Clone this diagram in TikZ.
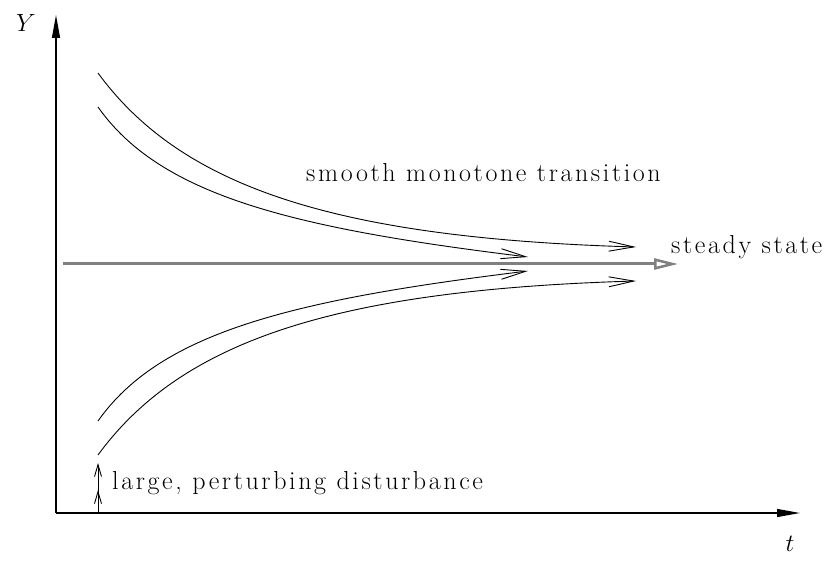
\documentclass[tikz,border=0pt]{standalone}
\usepackage{fontspec}
\setmainfont{Latin Modern Roman}
\newfontfamily\spacedfont[LetterSpace=10]{Latin Modern Roman}
\usetikzlibrary{arrows.meta}
\begin{document}
\begin{tikzpicture}[x=1pt,y=-1pt,
  lbl/.style={font={\spacedfont\fontsize{26}{30}\selectfont}, inner sep=0pt, anchor=base west},
  axlbl/.style={font={\fontsize{26}{30}\selectfont}, inner sep=0pt},
  axis/.style={line width=1.3pt, -{Triangle[length=23pt,width=8pt]}},
  flow/.style={line width=0.9pt, -{Straight Barb[length=25pt,width=10pt]}},
  steady/.style={line width=3pt, draw=gray, -{Triangle[open,length=24pt,width=11pt,line width=2.5pt]}},
  kick/.style={line width=0.9pt, -{Straight Barb[length=12pt,width=7pt,sep=13pt]Straight Barb[length=12pt,width=7pt]}}
]
\useasboundingbox (0,0) rectangle (830,561);
% axes
\coordinate (O) at (56,513);
\coordinate (ytip) at (56,15);
\coordinate (xtip) at (800,513);
\draw[axis] (O) -- (ytip);
\draw[axis] (O) -- (xtip);
\node[axlbl] (ylab) at (26,23) {$Y$};
\node[axlbl] (tlab) at (790,544) {$t$};
% steady state line
\coordinate (gs) at (63,264);
\coordinate (ge) at (678,264);
\draw[steady] (gs) -- (ge);
% curves
\coordinate (u1s) at (98,73);
\coordinate (u1e) at (636,247);
\coordinate (u2s) at (98,107);
\coordinate (u2e) at (528,257);
\coordinate (l2s) at (98,421);
\coordinate (l2e) at (528,271);
\coordinate (l1s) at (98,455);
\coordinate (l1e) at (636,281);
\draw[flow] (u1s) .. controls (180,185) and (330,238) .. (u1e);
\draw[flow] (u2s) .. controls (160,195) and (290,228) .. (u2e);
\draw[flow] (l2s) .. controls (160,333) and (290,300) .. (l2e);
\draw[flow] (l1s) .. controls (180,343) and (330,290) .. (l1e);
% disturbance
\coordinate (k0) at (98,513);
\coordinate (k1) at (98,463);
\draw[kick] (k0) -- (k1);
% labels
\node[lbl] (smooth) at (306,182) {smooth monotone transition};
\node[lbl] (steadylab) at (671,254) {steady state};
\node[lbl] (large) at (112,489) {large, perturbing disturbance};
\end{tikzpicture}
\end{document}
